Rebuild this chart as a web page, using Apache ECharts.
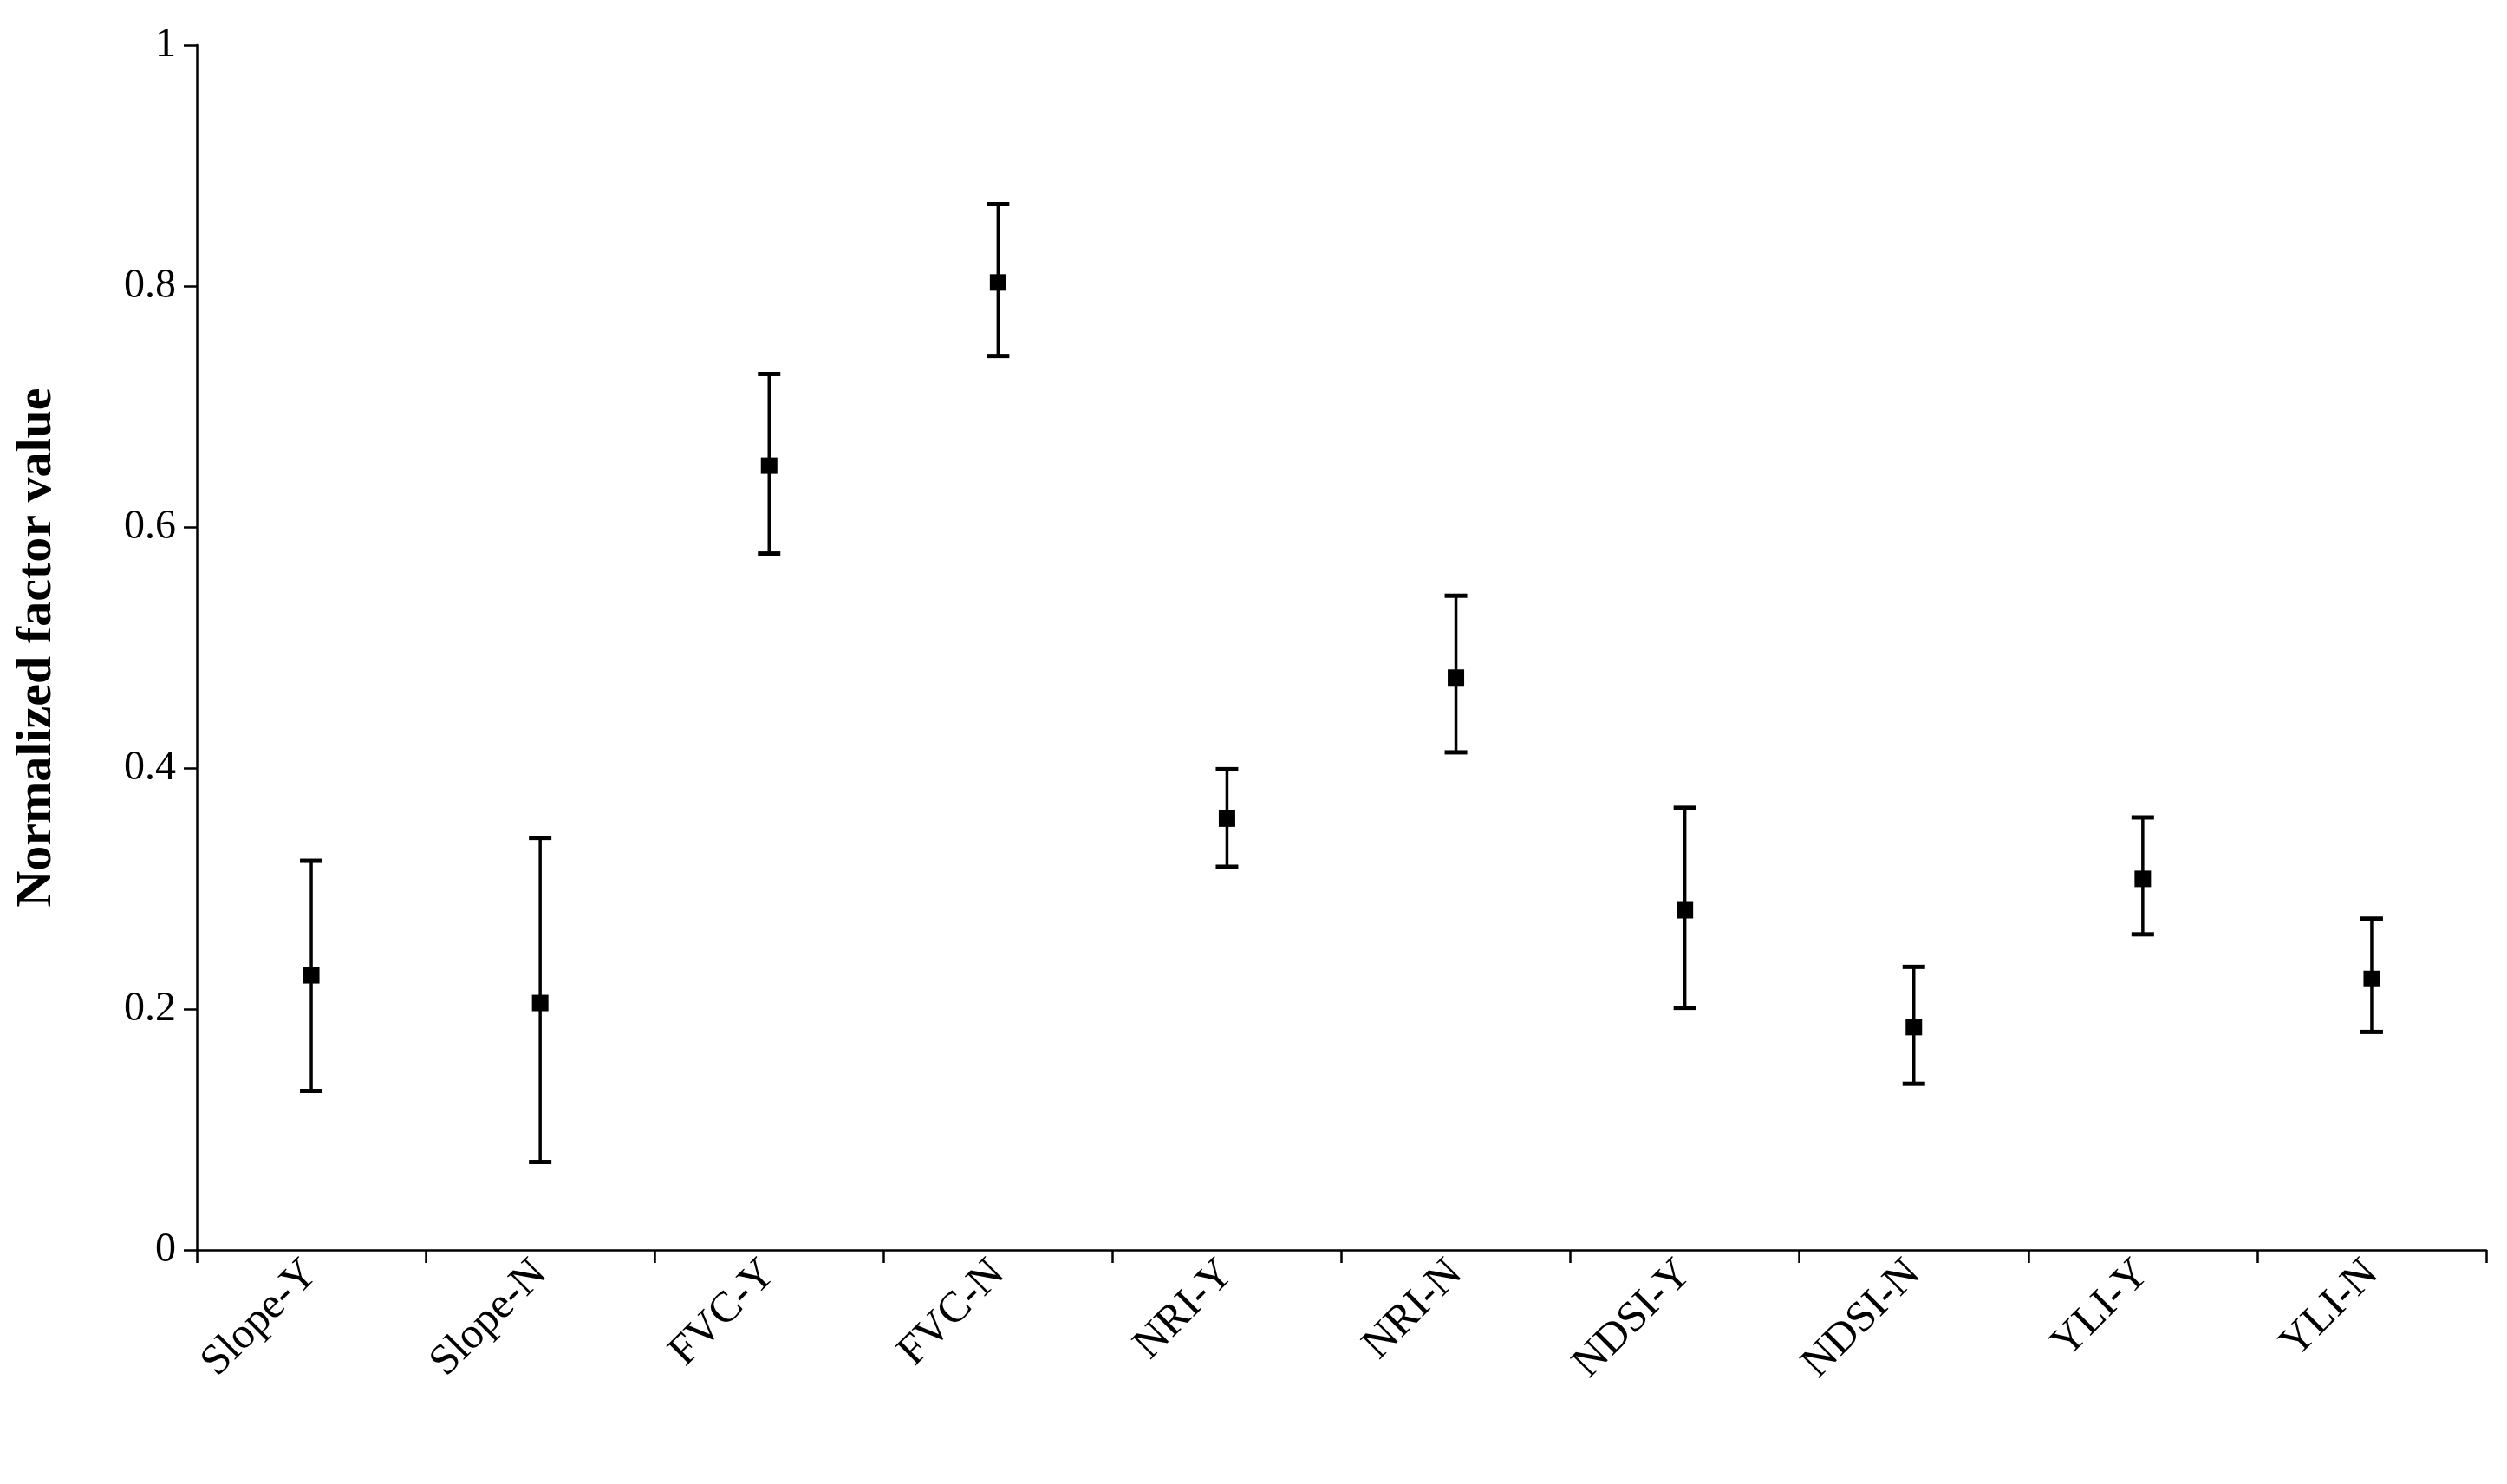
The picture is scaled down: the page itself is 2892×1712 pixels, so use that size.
<!DOCTYPE html>
<html><head><meta charset="utf-8">
<script src="https://cdn.jsdelivr.net/npm/echarts@6/dist/echarts.min.js"></script>
<style>html,body{margin:0;padding:0;background:#fff}#c{width:2892px;height:1712px}</style>
</head><body><div id="c"></div>
<script>
const categories = ['Slope-Y','Slope-N','FVC-Y','FVC-N','NRI-Y','NRI-N','NDSI-Y','NDSI-N','YLI-Y','YLI-N'];
const means = [0.228,0.205,0.651,0.803,0.358,0.475,0.282,0.185,0.308,0.225];
const lows  = [0.132,0.073,0.578,0.742,0.318,0.413,0.201,0.138,0.262,0.181];
const highs = [0.323,0.342,0.727,0.868,0.399,0.543,0.367,0.235,0.359,0.275];
const yTicks = [0,0.2,0.4,0.6,0.8,1];

const chart = echarts.init(document.getElementById('c'));
const font = '"Liberation Serif", "Times New Roman", serif';
chart.setOption({
  animation:false,
  backgroundColor:'#fff',
  grid:{left:227,right:24,top:52,bottom:270},
  xAxis:{type:'category',data:categories,boundaryGap:true,
    axisLine:{lineStyle:{color:'#000',width:2.5}},
    axisTick:{show:true,length:15,lineStyle:{color:'#000',width:2.5},alignWithLabel:false},
    axisLabel:{rotate:45,color:'#000',fontFamily:font,fontSize:50,margin:20,interval:0}},
  yAxis:{type:'value',min:0,max:1,interval:0.2,
    name:'Normalized factor value',nameLocation:'middle',nameGap:155,
    nameTextStyle:{color:'#000',fontFamily:font,fontSize:58,fontWeight:'bold'},
    axisLine:{show:true,lineStyle:{color:'#000',width:2.5}},
    axisTick:{show:true,length:15,lineStyle:{color:'#000',width:2.5}},
    splitLine:{show:false},
    axisLabel:{color:'#000',fontFamily:font,fontSize:48,margin:24,
      formatter:v=>yTicks.includes(+v.toFixed(2))?String(+v.toFixed(2)):''}},
  series:[
    {type:'custom',data:categories.map((c,i)=>[i,lows[i],highs[i]]),
     renderItem:(params,api)=>{
       const lo=api.coord([api.value(0),api.value(1)]);
       const hi=api.coord([api.value(0),api.value(2)]);
       const w=13, st={stroke:'#000',lineWidth:3.5};
       return {type:'group',children:[
         {type:'line',shape:{x1:lo[0],y1:lo[1],x2:hi[0],y2:hi[1]},style:st},
         {type:'line',shape:{x1:lo[0]-w,y1:lo[1],x2:lo[0]+w,y2:lo[1]},style:{stroke:'#000',lineWidth:5}},
         {type:'line',shape:{x1:hi[0]-w,y1:hi[1],x2:hi[0]+w,y2:hi[1]},style:{stroke:'#000',lineWidth:5}}
       ]};
     },z:2},
    {type:'scatter',data:means,symbol:'rect',symbolSize:19,itemStyle:{color:'#000',opacity:1},z:3}
  ]
});
</script></body></html>
